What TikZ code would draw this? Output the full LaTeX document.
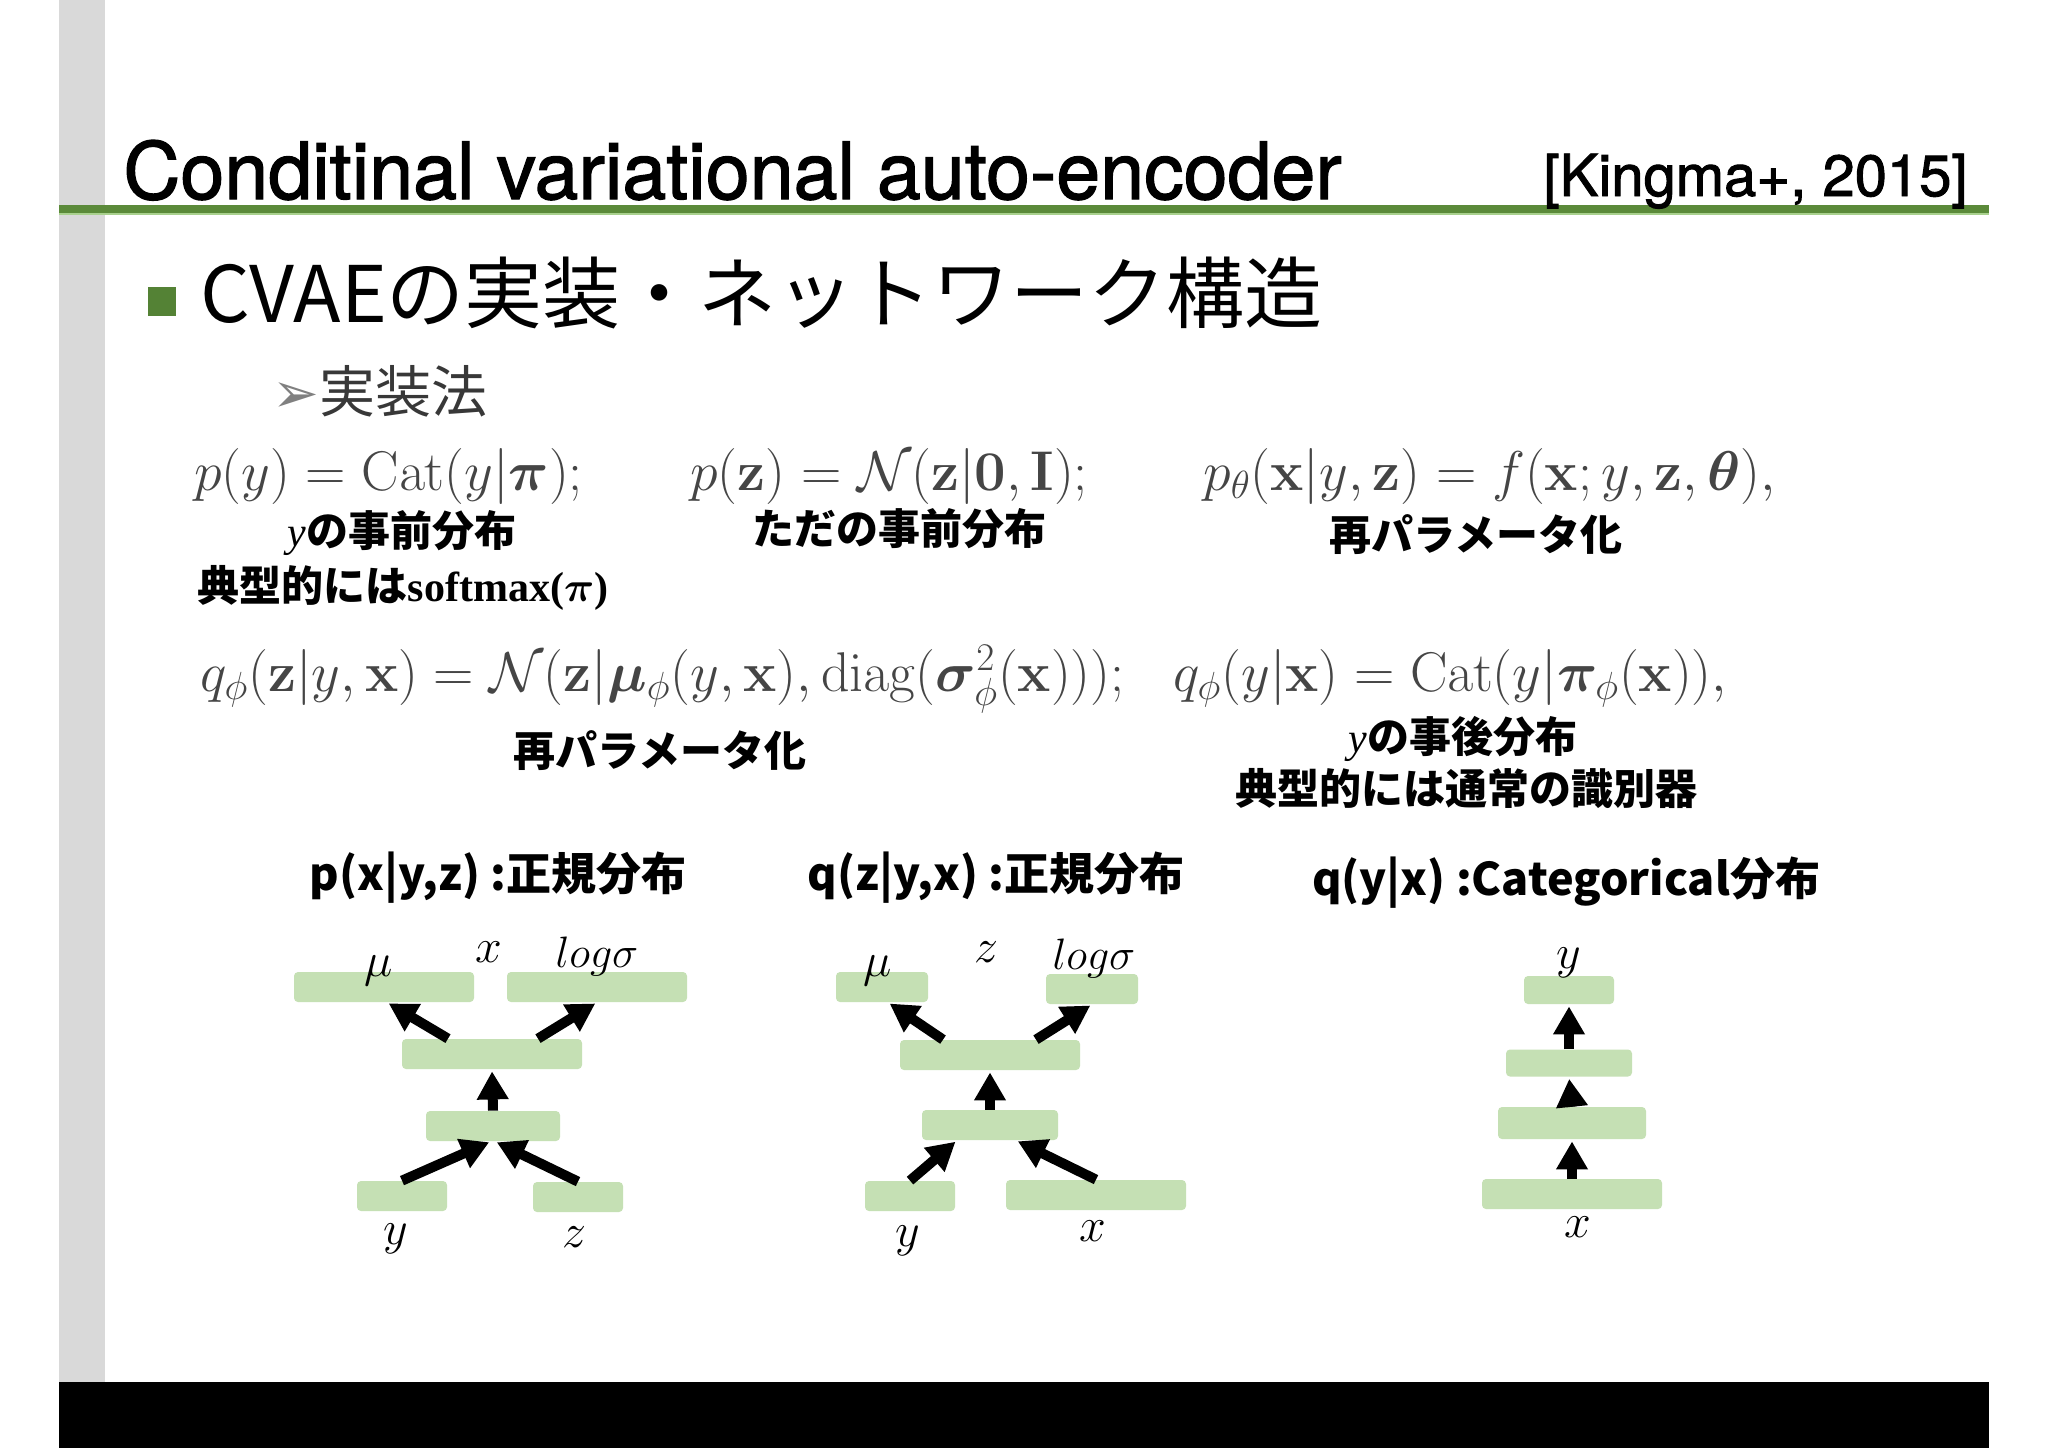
\RequirePackage{fix-cm}
\documentclass[tikz,border=0pt]{standalone}
\usepackage{amsmath}
\usepackage{bm}
\usepackage[no-math]{fontspec}
\newfontfamily\helvfont[FakeBold=1.6]{TeX Gyre Heros}
\newfontfamily\jpfont{Noto Sans CJK JP}
\newfontfamily\symfont{DejaVu Sans}
\newfontfamily\timesfont{Liberation Serif}
\usepackage{tikz}
\usetikzlibrary{arrows.meta, positioning}
\definecolor{slidegreen}{HTML}{5B8A3A}
\definecolor{rulelight}{HTML}{A9D18E}
\definecolor{bulletgreen}{HTML}{548235}
\definecolor{layergreen}{HTML}{C5E0B4}
\definecolor{bargray}{HTML}{D9D9D9}
\definecolor{eqgray}{HTML}{454545}
\tikzstyle{layer} = [rectangle, rounded corners=2pt, fill=layergreen, minimum height=15pt, inner sep=0pt]
\tikzstyle{flow} = [line width=5pt, -{Triangle[length=14pt, width=15pt]}, shorten >=1pt]
\tikzstyle{eq} = [anchor=base west, inner sep=0pt, text=eqgray, font=\fontsize{28}{32}\selectfont]
\tikzstyle{note} = [inner sep=0pt, font=\fontsize{21}{25}\selectfont\jpfont\bfseries]
\tikzstyle{head} = [inner sep=0pt, font=\fontsize{22.5}{27}\selectfont\jpfont\bfseries]
\tikzstyle{var} = [anchor=base, inner sep=0pt, font=\fontsize{24}{28}\selectfont]
\begin{document}
\begin{tikzpicture}[x=0.5pt, y=-0.5pt]
            \useasboundingbox [fill=white] (0,0) rectangle (2048,1448);
            % slide frame
            \fill [bargray] (59,0) rectangle (105,1382);
            \fill [black] (59,1382) rectangle (1989,1448);
            \fill [slidegreen] (59,205) rectangle (1989,213);
            \fill [rulelight] (59,213) rectangle (1989,215);
            \node (title) [anchor=base west, inner sep=0pt, font=\fontsize{39.5}{44}\selectfont\helvfont] at (123,199) {Conditinal variational auto-encoder};
            \node (cite) [anchor=base east, inner sep=0pt, font=\fontsize{29}{33}\selectfont\helvfont] at (1968,196) {[Kingma+, 2015]};
            \fill [bulletgreen] (148,287) rectangle (176,316);
            \node (topic) [anchor=base west, inner sep=0pt, font=\fontsize{39}{44}\selectfont\jpfont] at (200,322) {CVAEの実装・ネットワーク構造};
            \node (sub) [anchor=base west, inner sep=0pt, font=\fontsize{28}{32}\selectfont] at (272,412) {{\symfont\color{black!50}➢}{\jpfont\color{black!78}実装法}};
            % equations
            \node (eqpy) [eq] at (194,490) {$p(y) = \mathrm{Cat}(y|\bm{\pi});$};
            \node (eqpz) [eq] at (690,490) {$p(\mathbf{z}) = \mathcal{N}(\mathbf{z}|\mathbf{0},\mathbf{I});$};
            \node (eqpx) [eq] at (1203,490) {$p_{\theta}(\mathbf{x}|y,\mathbf{z}) = f(\mathbf{x};y,\mathbf{z},\bm{\theta}),$};
            \node (eqqz) [eq] at (200,691) {$q_{\phi}(\mathbf{z}|y,\mathbf{x}) = \mathcal{N}(\mathbf{z}|\bm{\mu}_{\phi}(y,\mathbf{x}),\mathrm{diag}(\bm{\sigma}^2_{\phi}(\mathbf{x})));$};
            \node (eqqy) [eq] at (1173,691) {$q_{\phi}(y|\mathbf{x}) = \mathrm{Cat}(y|\bm{\pi}_{\phi}(\mathbf{x})),$};
            \node (npy) [note] at (402,533) {{\timesfont\mdseries\itshape y}の事前分布};
            \node (npy2) [note] at (403,588) {典型的には{\timesfont softmax(}{\boldmath$\pi$}{\timesfont )}};
            \node (npz) [note] at (899,529) {ただの事前分布};
            \node (npx) [note] at (1476,535) {再パラメータ化};
            \node (nqz) [note] at (660,751) {再パラメータ化};
            \node (nqy) [note] at (1463,739) {{\timesfont\mdseries\itshape y}の事後分布};
            \node (nqy2) [note] at (1466,789) {典型的には通常の識別器};
            % network headers
            \node (hpx) [head] at (498,878) {p(x|y,z) :正規分布};
            \node (hqz) [head] at (996,878) {q(z|y,x) :正規分布};
            \node (hqy) [head] at (1566,883) {q(y|x) :Categorical分布};
            % p(x|y,z)
            \node (mu1) [layer, minimum width=90pt] at (384,987) {};
            \node (ls1) [layer, minimum width=90pt] at (597,987) {};
            \node (mid1) [layer, minimum width=90pt] at (492,1054) {};
            \node (low1) [layer, minimum width=67pt] at (493,1126) {};
            \node (y1) [layer, minimum width=45pt] at (402,1196) {};
            \node (z1) [layer, minimum width=45pt] at (578,1197) {};
            \node (lmu1) [var] at (379,976) {$\mu$};
            \node (lx1) [var] at (489,962) {$x$};
            \node (lls1) [var, font=\fontsize{22}{26}\selectfont] at (597,967) {$log\sigma$};
            \node (ly1) [var] at (396,1244) {$y$};
            \node (lz1) [var] at (574,1247) {$z$};
            \draw [flow] ([xshift=-22pt]mid1.north) -- ([xshift=1.5pt]mu1.south);
            \draw [flow] ([xshift=23pt]mid1.north) -- (ls1.south);
            \draw [flow] (low1.north) -- (mid1.south);
            \draw [flow] (y1.north) -- ([xshift=-1pt]low1.south);
            \draw [flow] (z1.north) -- ([xshift=1pt]low1.south);
            % q(z|y,x)
            \node (mu2) [layer, minimum width=46pt] at (882,987) {};
            \node (ls2) [layer, minimum width=46pt] at (1092,989) {};
            \node (mid2) [layer, minimum width=90pt] at (990,1055) {};
            \node (low2) [layer, minimum width=68pt] at (990,1125) {};
            \node (y2) [layer, minimum width=45pt] at (910,1196) {};
            \node (x2) [layer, minimum width=90pt] at (1096,1195) {};
            \node (lmu2) [var] at (878,976) {$\mu$};
            \node (lz2) [var] at (986,962) {$z$};
            \node (lls2) [var, font=\fontsize{22}{26}\selectfont] at (1094,969) {$log\sigma$};
            \node (ly2) [var] at (908,1246) {$y$};
            \node (lx2) [var] at (1093,1241) {$x$};
            \draw [flow] ([xshift=-23.5pt]mid2.north) -- ([xshift=3pt]mu2.south);
            \draw [flow] ([xshift=23pt]mid2.north) -- (ls2.south);
            \draw [flow] (low2.north) -- (mid2.south);
            \draw [flow] (y2.north) -- ([xshift=-16.5pt]low2.south);
            \draw [flow] (x2.north) -- ([xshift=13pt]low2.south);
            % q(y|x)
            \node (t3) [layer, minimum width=45pt, minimum height=14pt] at (1569,990) {};
            \node (b2) [layer, minimum width=63pt, minimum height=13.5pt] at (1569,1063) {};
            \node (b3) [layer, minimum width=74pt, minimum height=16pt] at (1572,1123) {};
            \node (b4) [layer, minimum width=90pt] at (1572,1194) {};
            \node (ly3) [var] at (1569,968) {$y$};
            \node (lx3) [var] at (1578,1237) {$x$};
            \draw [flow] (b2.north) -- (t3.south);
            \draw [flow] (b3.north) -- (b2.south);
            \draw [flow] (b4.north) -- (b3.south);
\end{tikzpicture}
\end{document}
